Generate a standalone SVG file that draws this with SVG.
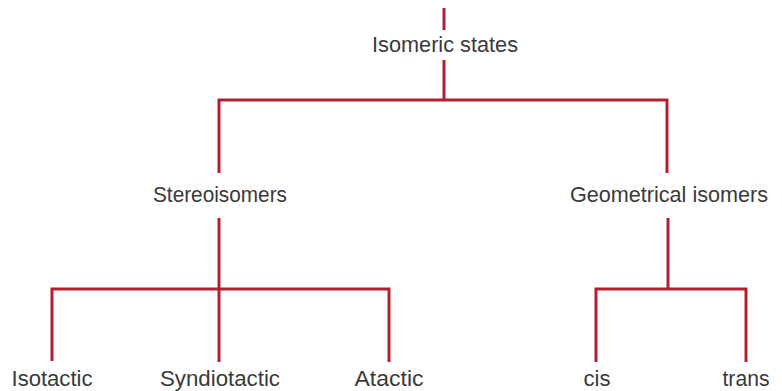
<svg xmlns="http://www.w3.org/2000/svg" width="782" height="391" viewBox="0 0 782 391">
<style>
.c{fill:none;stroke:#b1202e;stroke-width:3;stroke-linejoin:miter;stroke-linecap:butt}
.t{font-family:"Liberation Sans",Arial,sans-serif;font-size:22.5px;fill:#3a3a3a;text-anchor:middle}
</style>
<rect width="782" height="391" fill="#ffffff"/>
<g id="connectors">
<path class="c" d="M444 8V30"/>
<path class="c" d="M444 60V100"/>
<path class="c" d="M219 173V100H667V173"/>
<path class="c" d="M219 218V362"/>
<path class="c" d="M52 361V289H389V362"/>
<path class="c" d="M668 218V289"/>
<path class="c" d="M596 362V289H746V362"/>
</g>
<g id="isomeric-states"><text class="t" x="445" y="52" textLength="146" lengthAdjust="spacingAndGlyphs">Isomeric states</text></g>
<g id="stereoisomers"><text class="t" x="220" y="202" textLength="134" lengthAdjust="spacingAndGlyphs">Stereoisomers</text></g>
<g id="geometrical-isomers"><text class="t" x="669" y="202" textLength="198" lengthAdjust="spacingAndGlyphs">Geometrical isomers</text></g>
<g id="isotactic"><text class="t" x="52" y="386" textLength="81" lengthAdjust="spacingAndGlyphs">Isotactic</text></g>
<g id="syndiotactic"><text class="t" x="220" y="386" textLength="120" lengthAdjust="spacingAndGlyphs">Syndiotactic</text></g>
<g id="atactic"><text class="t" x="389" y="386" textLength="69" lengthAdjust="spacingAndGlyphs">Atactic</text></g>
<g id="cis"><text class="t" x="597" y="386" textLength="27" lengthAdjust="spacingAndGlyphs">cis</text></g>
<g id="trans"><text class="t" x="746" y="386" textLength="47" lengthAdjust="spacingAndGlyphs">trans</text></g>
</svg>
